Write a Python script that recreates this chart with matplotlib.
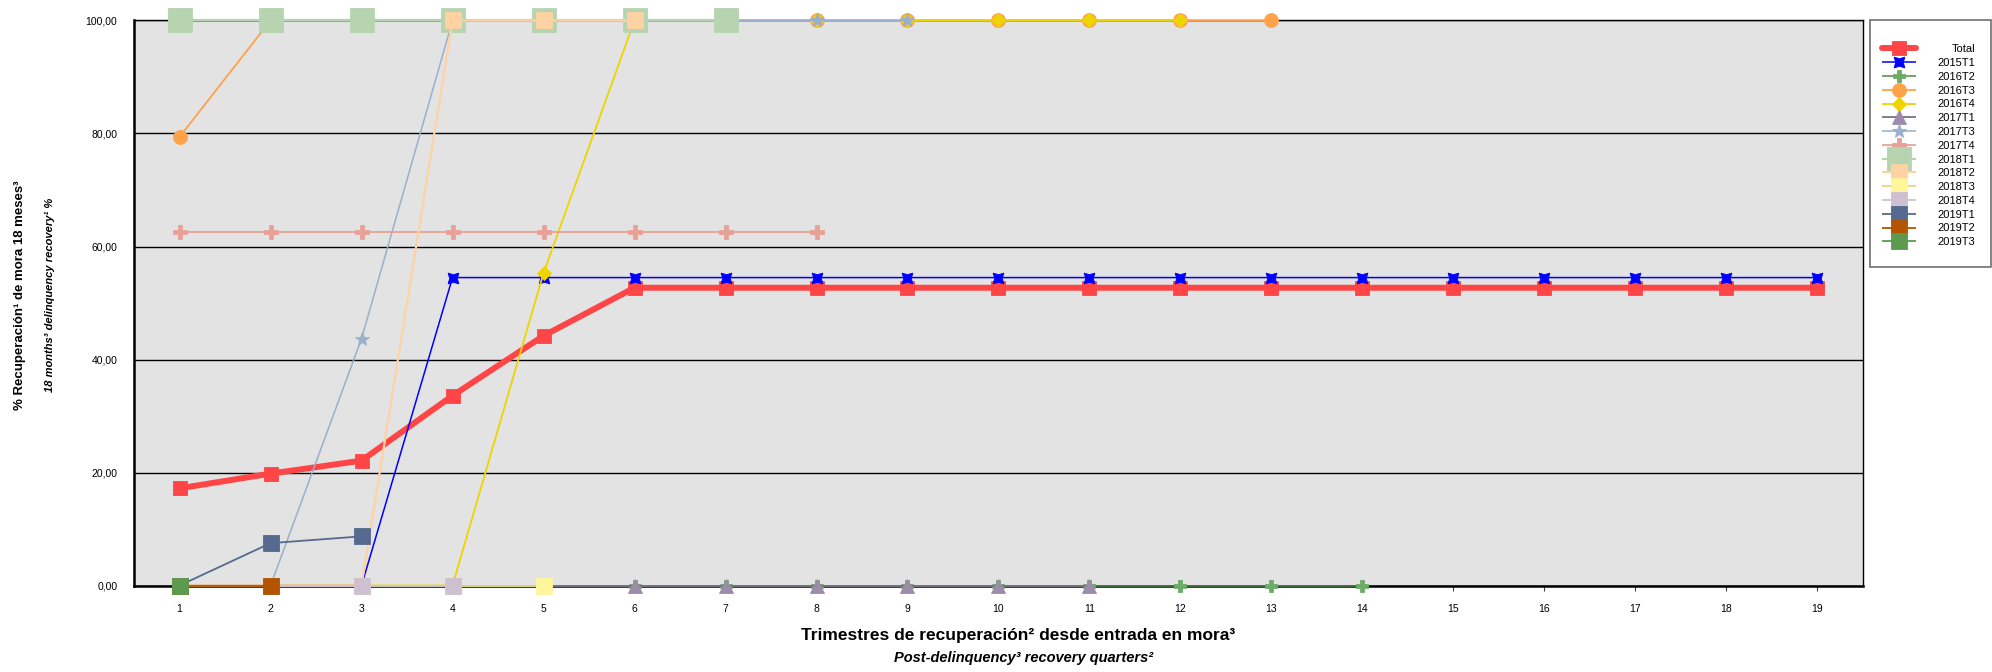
import matplotlib
matplotlib.use("Agg")
import matplotlib.pyplot as plt
from matplotlib.patches import Rectangle
from matplotlib.ticker import FixedLocator

plt.rcParams['font.family'] = ['Liberation Sans', 'DejaVu Sans']

# %% Data

quarters = list(range(1, 20))

total   = [17.2, 19.8, 22.1, 33.6, 44.2, 52.7, 52.7, 52.7, 52.7, 52.7,
           52.7, 52.7, 52.7, 52.7, 52.7, 52.7, 52.7, 52.7, 52.7]
q2015T1 = [0.0, 0.0, 0.0, 54.5, 54.5, 54.5, 54.5, 54.5, 54.5, 54.5,
           54.5, 54.5, 54.5, 54.5, 54.5, 54.5, 54.5, 54.5, 54.5]
q2016T2 = [0.0, 0.0, 0.0, 0.0, 0.0, 0.0, 0.0, 0.0, 0.0, 0.0, 0.0, 0.0, 0.0, 0.0]
q2016T3 = [79.4, 100.0, 100.0, 100.0, 100.0, 100.0, 100.0, 100.0, 100.0,
           100.0, 100.0, 100.0, 100.0]
q2016T4 = [0.0, 0.0, 0.0, 0.0, 55.3, 100.0, 100.0, 100.0, 100.0, 100.0,
           100.0, 100.0]
q2017T1 = [0.0, 0.0, 0.0, 0.0, 0.0, 0.0, 0.0, 0.0, 0.0, 0.0, 0.0]
q2017T3 = [0.0, 0.0, 43.7, 100.0, 100.0, 100.0, 100.0, 100.0, 100.0]
q2017T4 = [62.5, 62.5, 62.5, 62.5, 62.5, 62.5, 62.5, 62.5]
q2018T1 = [100.0, 100.0, 100.0, 100.0, 100.0, 100.0, 100.0]
q2018T2 = [0.0, 0.0, 0.0, 100.0, 100.0, 100.0]
q2018T3 = [0.0, 0.0, 0.0, 0.0, 0.0]
q2018T4 = [0.0, 0.0, 0.0, 0.0]
q2019T1 = [0.0, 7.5, 8.7]
q2019T2 = [0.0, 0.0]
q2019T3 = [0.0]

labels = ['Total', '2015T1', '2016T2', '2016T3', '2016T4', '2017T1', '2017T3',
          '2017T4', '2018T1', '2018T2', '2018T3', '2018T4', '2019T1',
          '2019T2', '2019T3']
series = [total, q2015T1, q2016T2, q2016T3, q2016T4, q2017T1, q2017T3,
          q2017T4, q2018T1, q2018T2, q2018T3, q2018T4, q2019T1,
          q2019T2, q2019T3]

yticks = [0, 20, 40, 60, 80, 100]
ytick_labels = ['0,00', '20,00', '40,00', '60,00', '80,00', '100,00']

# %% Styles (marker colour, line colour, marker, marker size, line width)

styles = {
    'Total':  ('#FF4545', '#FF4545', 's', 10.5, 4.3),
    '2015T1': ('#0000FF', '#0000FF', (4, 1, 45), 11, 1.1),
    '2016T2': ('#6DAB68', '#4F8A4C', 'P', 9, 1.1),
    '2016T3': ('#FFA24A', '#FFA24A', 'o', 10, 1.3),
    '2016T4': ('#EED400', '#EED400', 'D', 7, 1.3),
    '2017T1': ('#9C8BAA', '#7C6E88', '^', 10, 1.3),
    '2017T3': ('#9AAFCB', '#9AAFCB', '*', 10, 1.1),
    '2017T4': ('#E8A196', '#E8A196', 'P', 10, 1.3),
    '2018T1': ('#B6D4B0', '#B6D4B0', 's', 17, 1.6),
    '2018T2': ('#FFD2A3', '#FFD2A3', 's', 12, 1.6),
    '2018T3': ('#FFF59B', '#E4DA80', 's', 11, 1.3),
    '2018T4': ('#CFC0D1', '#CFC0D1', 's', 11, 1.3),
    '2019T1': ('#566A8F', '#566A8F', 's', 11, 1.3),
    '2019T2': ('#B25400', '#B25400', 's', 11, 1.3),
    '2019T3': ('#5C9A50', '#5C9A50', 's', 11, 1.3),
}

# %% Plot

fig = plt.figure(figsize=(19.92, 6.72), dpi=100)
ax = fig.add_axes([0.0673, 0.1287, 0.9352 - 0.0673, 0.9695 - 0.1287])
ax.set_facecolor('#E3E3E3')

handles = []
for lab, vals in zip(labels, series):
    mc, lc, mk, ms, lw = styles[lab]
    x = quarters[:len(vals)]
    ln, = ax.plot(x, vals, color=lc, lw=lw, marker=mk, ms=ms,
                  markerfacecolor=mc, markeredgecolor=mc, markeredgewidth=0.6,
                  clip_on=False, zorder=3, label=lab,
                  solid_capstyle='round' if lab == 'Total' else 'butt')
    handles.append(ln)

ax.set_xlim(0.5, 19.5)
ax.set_ylim(0, 100)
ax.set_xticks(quarters)
ax.set_xticklabels([str(q) for q in quarters], fontsize=7.5)
ax.yaxis.set_major_locator(FixedLocator(yticks))
ax.set_yticklabels(ytick_labels, fontsize=7.5)
ax.tick_params(axis='x', direction='out', length=3.6, width=0.8, color='#404040', pad=10)
ax.tick_params(axis='y', length=0, pad=12)

ax.set_axisbelow(True)
ax.yaxis.grid(True, color='black', lw=1.0)

for side in ['left', 'bottom']:
    ax.spines[side].set_linewidth(1.8)
for side in ['top', 'right']:
    ax.spines[side].set_linewidth(1.0)

# axis titles
fig.text(0.010, 0.561, '% Recuperación¹ de mora 18 meses³', rotation=90,
         ha='center', va='center', fontsize=9.5, fontweight='bold')
fig.text(0.025, 0.561, '18 months³ delinquency recovery¹ %', rotation=90,
         ha='center', va='center', fontsize=8, fontweight='bold', style='italic')
fig.text(0.511, 0.055, 'Trimestres de recuperación² desde entrada en mora³',
         ha='center', va='center', fontsize=12.5, fontweight='bold')
fig.text(0.514, 0.021, 'Post-delinquency³ recovery quarters²',
         ha='center', va='center', fontsize=10.5, fontweight='bold', style='italic')

# legend with its own frame
frame = Rectangle((0.9388, 0.6027), 0.0607, 0.3676, transform=fig.transFigure,
                  facecolor='white', edgecolor='#707070', lw=1.2, zorder=0)
fig.patches.append(frame)

leg = fig.legend(handles, labels, loc='upper left', bbox_to_anchor=(0.9448, 0.934),
                 frameon=False, fontsize=8, handlelength=3.1, handletextpad=1.9,
                 labelspacing=0.34, borderpad=0, borderaxespad=0)

# right-align the legend labels
fig.canvas.draw()
r = fig.canvas.get_renderer()
widths = [t.get_window_extent(r).width for t in leg.get_texts()]
wmax = max(widths)
for t, wd in zip(leg.get_texts(), widths):
    t.set_position((wmax - wd, 0))

fig.savefig('out.png', dpi=100)
plt.close()
